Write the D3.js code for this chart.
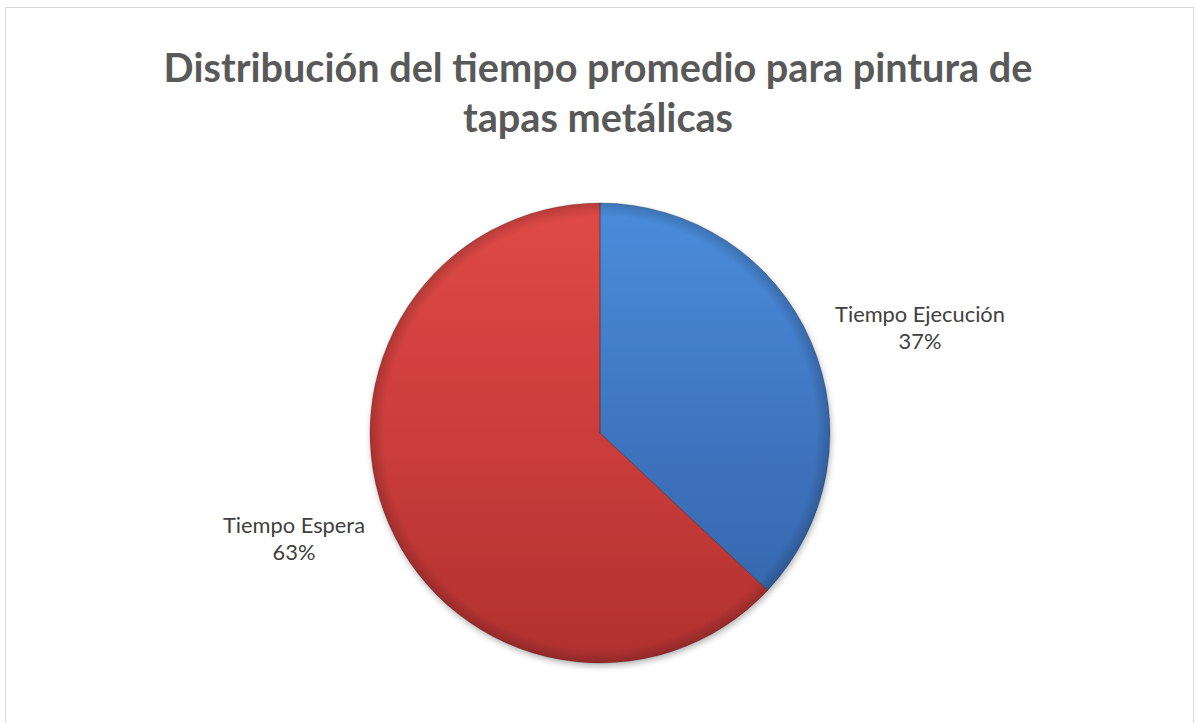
<!DOCTYPE html>
<html>
<head>
<meta charset="utf-8">
<script src="https://cdn.jsdelivr.net/npm/d3@7"></script>
<style>
  html, body { margin: 0; padding: 0; background: #fff; }
  svg { display: block; }
</style>
</head>
<body>
<svg id="chart" width="1195" height="723"></svg>
<script>
// Chart data
const categories = ["Tiempo Ejecución", "Tiempo Espera"];
const values = [37, 63];
const titleLines = ["Distribución del tiempo promedio para pintura de", "tapas metálicas"];

const svg = d3.select("#chart");
const defs = svg.append("defs");
const font = "Lato, 'Open Sans', sans-serif";

// Chart frame
svg.append("rect")
  .attr("x", 5.5).attr("y", 7.5)
  .attr("width", 1188).attr("height", 730)
  .attr("fill", "#fff").attr("stroke", "#d9d9d9").attr("stroke-width", 1);

// Title
const title = svg.append("g").attr("font-family", font)
  .attr("font-weight", "bold").attr("fill", "#595959").attr("text-anchor", "middle");
const t1 = title.append("text").attr("x", 598).attr("y", 82).attr("font-size", 36).text(titleLines[0]);
const fs = 36 * 869 / t1.node().getComputedTextLength();
t1.attr("font-size", fs);
title.append("text").attr("x", 598).attr("y", 132).attr("font-size", fs).text(titleLines[1]);

// Pie geometry
const cx = 600, cy = 433, r = 230;
const colors = {
  "Tiempo Ejecución": ["#4b8ddb", "#3d72bd", "#3465a8"],
  "Tiempo Espera": ["#df4a46", "#c93c3a", "#b03130"]
};

categories.forEach((c, i) => {
  const g = defs.append("linearGradient").attr("id", "grad" + i)
    .attr("gradientUnits", "userSpaceOnUse")
    .attr("x1", 0).attr("y1", -r).attr("x2", 0).attr("y2", r);
  g.append("stop").attr("offset", "0%").attr("stop-color", colors[c][0]);
  g.append("stop").attr("offset", "55%").attr("stop-color", colors[c][1]);
  g.append("stop").attr("offset", "100%").attr("stop-color", colors[c][2]);
});

// Edge shading for the bevel
const rg = defs.append("radialGradient").attr("id", "edge")
  .attr("gradientUnits", "userSpaceOnUse").attr("cx", 0).attr("cy", 0).attr("r", r);
rg.append("stop").attr("offset", "94%").attr("stop-color", "#000").attr("stop-opacity", 0);
rg.append("stop").attr("offset", "100%").attr("stop-color", "#000").attr("stop-opacity", 0.18);

const shadow = defs.append("filter").attr("id", "shadow")
  .attr("x", "-20%").attr("y", "-20%").attr("width", "140%").attr("height", "140%");
shadow.append("feGaussianBlur").attr("in", "SourceAlpha").attr("stdDeviation", 3);
shadow.append("feOffset").attr("dx", 1).attr("dy", 3);
shadow.append("feComponentTransfer").append("feFuncA").attr("type", "linear").attr("slope", 0.3);
const merge = shadow.append("feMerge");
merge.append("feMergeNode");
merge.append("feMergeNode").attr("in", "SourceGraphic");

const pie = d3.pie().sort(null).value(d => d.v);
const arcs = pie(categories.map((c, i) => ({ c, v: values[i], i })));
const arc = d3.arc().innerRadius(0).outerRadius(r);

const pg = svg.append("g").attr("transform", `translate(${cx},${cy})`).attr("filter", "url(#shadow)");
pg.selectAll("path.slice").data(arcs).join("path")
  .attr("class", "slice")
  .attr("d", arc)
  .attr("fill", d => `url(#grad${d.data.i})`);

const eg = svg.append("g").attr("transform", `translate(${cx},${cy})`);
eg.selectAll("path.edge").data(arcs).join("path")
  .attr("class", "edge")
  .attr("d", arc)
  .attr("fill", "url(#edge)")
  .attr("stroke", "rgba(0,0,0,0.25)").attr("stroke-width", 0.8);

// Data labels
const labels = [
  { x: 920, y: 322 },
  { x: 294, y: 533 }
];
const lg = svg.append("g").attr("font-family", font)
  .attr("font-size", 18).attr("fill", "#404040").attr("text-anchor", "middle");
const probe = lg.append("text").text(categories[0]);
const lfs = 18 * 170 / probe.node().getComputedTextLength();
probe.remove();
lg.attr("font-size", lfs);
arcs.forEach((d, i) => {
  const t = lg.append("text").attr("x", labels[i].x).attr("y", labels[i].y);
  t.append("tspan").attr("x", labels[i].x).text(d.data.c);
  t.append("tspan").attr("x", labels[i].x).attr("dy", 27).text(d.data.v + "%");
});
</script>
</body>
</html>
